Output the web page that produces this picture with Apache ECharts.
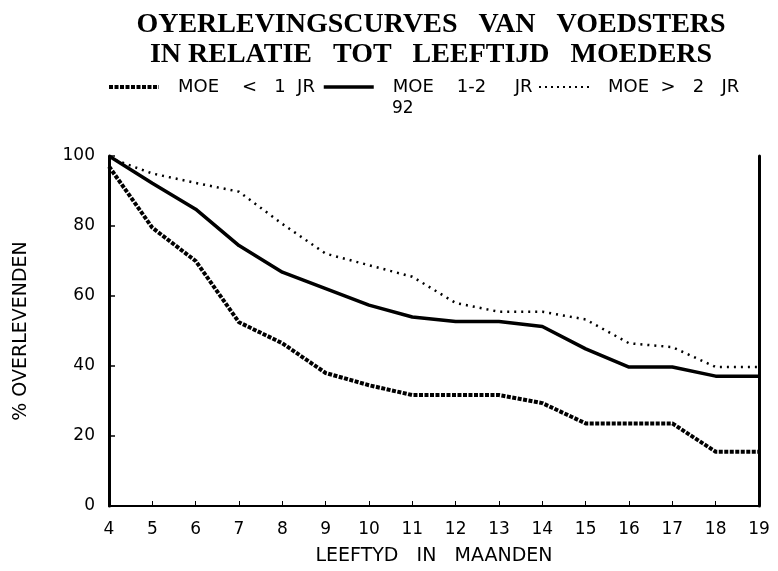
<!DOCTYPE html>
<html>
<head>
<meta charset="utf-8">
<script src="https://cdn.jsdelivr.net/npm/echarts@6/dist/echarts.min.js"></script>
<style>html,body{margin:0;padding:0;background:#fff;}#c{width:778px;height:571px;}</style>
</head>
<body>
<div id="c"></div>
<script>
var months = [4, 5, 6, 7, 8, 9, 10, 11, 12, 13, 14, 15, 16, 17, 18, 19];
var moeLt1 = [97, 79.5, 70, 52.5, 46.5, 38, 34.5, 31.7, 31.7, 31.7, 29.4, 23.6, 23.6, 23.6, 15.5, 15.5];
var moe12 = [100, 92.2, 84.8, 74.4, 66.8, 62.1, 57.4, 54, 52.7, 52.7, 51.3, 44.9, 39.7, 39.7, 37.1, 37.1];
var moeGt2 = [99.5, 95, 92.3, 89.8, 80.6, 72.1, 68.8, 65.5, 58, 55.5, 55.5, 53.3, 46.5, 45.4, 39.7, 39.7];
var seriesNames = ['MOE    <   1  JR', 'MOE    1-2     JR', 'MOE  >   2   JR'];
var yTicks = [0, 20, 40, 60, 80, 100];

function pairs(vals) { return months.map(function (m, i) { return [m, vals[i]]; }); }

var sans = 'DejaVu Sans';
var legendLefts = [107, 322, 538];
var legendLines = [
  {color: '#000', width: 4, type: [4, 1.5]},
  {color: '#000', width: 3.5, type: 'solid'},
  {color: '#000', width: 2, type: [2, 4]}
];
function makeLegend(i) {
  return {
    left: legendLefts[i], top: 78, padding: 0, itemWidth: 50, itemHeight: 14,
    itemStyle: {opacity: 0},
    lineStyle: legendLines[i],
    formatter: function (n) { return '{t|' + n + '}'; },
    textStyle: {
      fontFamily: sans, fontSize: 18, color: '#000',
      rich: {t: {fontFamily: sans, fontSize: 18, color: '#000', padding: [0, 0, 0, 14]}}
    },
    data: [seriesNames[i]]
  };
}

var chart = echarts.init(document.getElementById('c'), null, {renderer: 'canvas'});
chart.setOption({
  animation: false,
  backgroundColor: '#fff',
  color: ['#000', '#000', '#000'],
  title: {
    text: 'OYERLEVINGSCURVES   VAN   VOEDSTERS\nIN RELATIE   TOT   LEEFTIJD   MOEDERS',
    left: 426, top: 5, textAlign: 'center',
    textStyle: {fontFamily: 'Liberation Serif', fontWeight: 'bold', fontSize: 28, lineHeight: 30, color: '#000'}
  },
  legend: [makeLegend(0), makeLegend(1), makeLegend(2)],
  graphic: [{
    type: 'text', left: 392, top: 100,
    style: {text: '92', fontFamily: sans, fontSize: 17, fill: '#000'}
  }],
  grid: {left: 109, right: 19, top: 156, bottom: 60},
  xAxis: {
    type: 'value', min: 4, max: 19, interval: 1,
    name: 'LEEFTYD   IN   MAANDEN', nameLocation: 'middle', nameGap: 41,
    nameTextStyle: {fontFamily: sans, fontSize: 19, color: '#000'},
    axisLine: {lineStyle: {color: '#000', width: 2}},
    axisTick: {inside: true, length: 5, lineStyle: {color: '#000', width: 1}},
    axisLabel: {margin: 15, fontFamily: sans, fontSize: 17, color: '#000'},
    splitLine: {show: false}
  },
  yAxis: [{
    type: 'value', min: 0, max: 100, interval: 20,
    name: '% OVERLEVENDEN', nameLocation: 'middle', nameGap: 78, nameRotate: 90,
    nameTextStyle: {fontFamily: sans, fontSize: 19, color: '#000'},
    axisLine: {show: true, lineStyle: {color: '#000', width: 3}},
    axisTick: {show: true, inside: true, length: 6, lineStyle: {color: '#000', width: 1.5}},
    axisLabel: {margin: 14, fontFamily: sans, fontSize: 17, color: '#000',
      formatter: function (v) { return yTicks.indexOf(v) >= 0 ? String(v) : ''; }},
    splitLine: {show: false}
  }, {
    type: 'value', min: 0, max: 100, interval: 20, position: 'right',
    axisLine: {show: true, lineStyle: {color: '#000', width: 3}},
    axisTick: {show: false}, axisLabel: {show: false}, splitLine: {show: false}
  }],
  series: [{
    name: seriesNames[0], type: 'line', symbol: 'none', data: pairs(moeLt1),
    lineStyle: {color: '#000', width: 4, type: [4, 1.5]}
  }, {
    name: seriesNames[1], type: 'line', symbol: 'none', data: pairs(moe12),
    lineStyle: {color: '#000', width: 3.5, type: 'solid'}
  }, {
    name: seriesNames[2], type: 'line', symbol: 'none', data: pairs(moeGt2),
    lineStyle: {color: '#000', width: 2.5, type: [2, 5]}
  }]
});
</script>
</body>
</html>
